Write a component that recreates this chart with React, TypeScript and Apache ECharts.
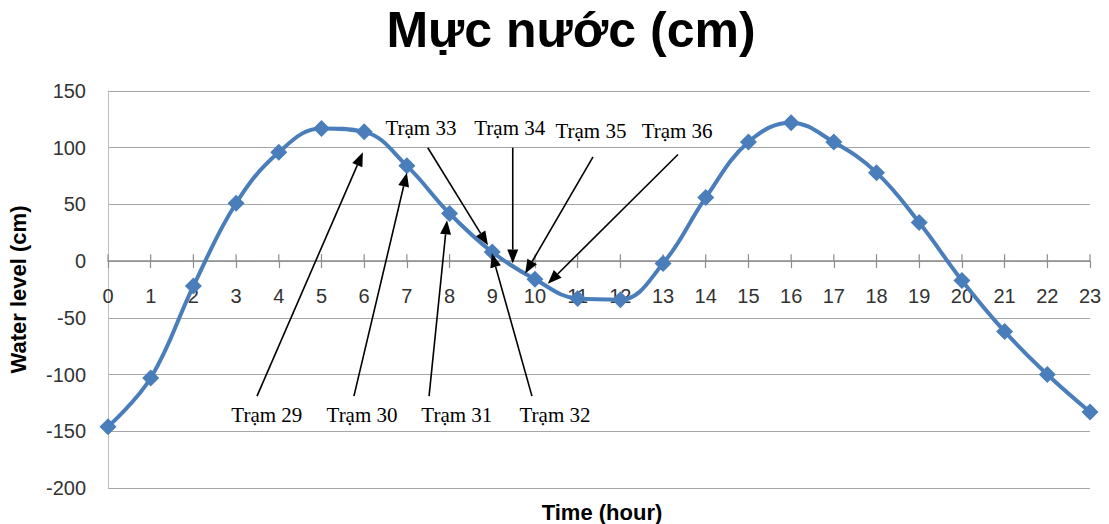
import React, { useEffect, useRef } from "react";
import * as echarts from "echarts";

const hours = [0, 1, 2, 3, 4, 5, 6, 7, 8, 9, 10, 11, 12, 13, 14, 15, 16, 17, 18, 19, 20, 21, 22, 23];
const waterLevel = [-146, -103, -22, 51, 96, 117, 114, 84, 42, 8, -16, -33, -34, -2, 56, 105, 122, 105, 78, 34, -17, -62, -100, -133];

const yTicks = { min: -200, max: 150, interval: 50 };

const stationNames = ["Trạm 29", "Trạm 30", "Trạm 31", "Trạm 32", "Trạm 33", "Trạm 34", "Trạm 35", "Trạm 36"];
// annotation label anchors (hour, cm)
const labelPos: number[][] = [
  [3.72, -136], [5.95, -136], [8.17, -136], [10.47, -136],
  [7.33, 117], [9.41, 117], [11.31, 115], [13.33, 115],
];
// arrow tails and heads (hour, cm)
const arrowTail: number[][] = [
  [3.49, -119], [5.76, -119], [7.52, -119], [9.93, -119],
  [7.49, 100], [9.48, 100], [11.36, 92], [13.35, 94],
];
const arrowHead: number[][] = [
  [5.97, 96], [7.0, 78], [7.94, 36], [8.99, 7],
  [8.9, 14], [9.48, -2], [9.77, -11], [10.3, -20],
];

function arrowShapes(t: number[], h: number[]) {
  const dx = h[0] - t[0];
  const dy = h[1] - t[1];
  const L = Math.hypot(dx, dy) || 1;
  const ux = dx / L;
  const uy = dy / L;
  const len = 14;
  const w = 5.5;
  const bx = h[0] - ux * len;
  const by = h[1] - uy * len;
  return [
    {
      type: "line",
      shape: { x1: t[0], y1: t[1], x2: bx, y2: by },
      style: { stroke: "#000", lineWidth: 1.6 },
      z: 100,
    },
    {
      type: "polygon",
      shape: { points: [[h[0], h[1]], [bx - uy * w, by + ux * w], [bx + uy * w, by - ux * w]] },
      style: { fill: "#000" },
      z: 100,
    },
  ];
}

export default function App() {
  const ref = useRef<HTMLDivElement>(null);
  useEffect(() => {
    if (!ref.current) return;
    const chart = echarts.init(ref.current, undefined, { renderer: "svg" });
    const labelFont = { fontFamily: "Liberation Sans", fontSize: 20, color: "#333" };
    chart.setOption({
      animation: false,
      backgroundColor: "#fff",
      title: [
        {
          text: "Mực nước (cm)",
          left: 566,
          top: 0,
          textAlign: "center",
          textStyle: { fontFamily: "Liberation Sans", fontWeight: "bold", fontSize: 50, color: "#000" },
        },
        {
          text: "Time (hour)",
          left: 597,
          top: 496,
          textAlign: "center",
          textStyle: { fontFamily: "Liberation Sans", fontWeight: "bold", fontSize: 22, color: "#000" },
        },
      ],
      grid: { left: 108, right: 19, top: 91, bottom: 36, containLabel: false, outerBoundsMode: "none" },
      xAxis: {
        type: "value",
        min: 0,
        max: 23,
        interval: 1,
        axisLine: { onZero: true, lineStyle: { color: "#8c8c8c", width: 1.5 } },
        axisTick: { show: true, inside: false, length: 7, lineStyle: { color: "#8c8c8c", width: 1.2 } },
        axisLabel: { show: false },
        splitLine: { show: false },
      },
      yAxis: {
        type: "value",
        min: yTicks.min,
        max: yTicks.max,
        interval: yTicks.interval,
        name: "Water level (cm)",
        nameLocation: "middle",
        nameGap: 79,
        nameTextStyle: { fontFamily: "Liberation Sans", fontWeight: "bold", fontSize: 22, color: "#000" },
        axisLine: { show: true, lineStyle: { color: "#bdbdbd", width: 1 } },
        axisTick: { show: false },
        axisLabel: { ...labelFont, margin: 22 },
        splitLine: { show: true, lineStyle: { color: "#a6a6a6", width: 1 } },
      },
      series: [
        {
          type: "line",
          data: hours.map((h, i) => [h, waterLevel[i]]),
          smooth: 0.4,
          symbol: "diamond",
          symbolSize: 17,
          lineStyle: { color: "#4a7ebb", width: 4 },
          itemStyle: { color: "#4a7ebb" },
          z: 5,
        },
      ],
    });

    const px = (p: number[]) => chart.convertToPixel({ gridIndex: 0 }, p) as number[];
    const graphics: any[] = [];
    // upper half of the crossing tick marks and hour labels along the zero line
    hours.forEach((h) => {
      const p = px([h, 0]);
      graphics.push({
        type: "line",
        shape: { x1: p[0], y1: p[1], x2: p[0], y2: p[1] - 7 },
        style: { stroke: "#8c8c8c", lineWidth: 1.2 },
        z: 1,
      });
      graphics.push({
        type: "text",
        x: p[0],
        y: p[1] + 35,
        z: 2,
        style: {
          text: String(h),
          fontFamily: "Liberation Sans",
          fontSize: 20,
          fill: "#333",
          align: "center",
          verticalAlign: "middle",
        },
      });
    });
    stationNames.forEach((name, i) => {
      const lp = px(labelPos[i]);
      graphics.push({
        type: "text",
        x: lp[0],
        y: lp[1],
        z: 100,
        style: {
          text: name,
          fontFamily: "Liberation Serif",
          fontSize: 21,
          fill: "#000",
          align: "center",
          verticalAlign: "middle",
        },
      });
      graphics.push(...arrowShapes(px(arrowTail[i]), px(arrowHead[i])));
    });
    chart.setOption({ graphic: graphics });

    return () => chart.dispose();
  }, []);
  return <div ref={ref} style={{ position: "absolute", left: 0, top: 0, width: 1109, height: 524 }} />;
}
